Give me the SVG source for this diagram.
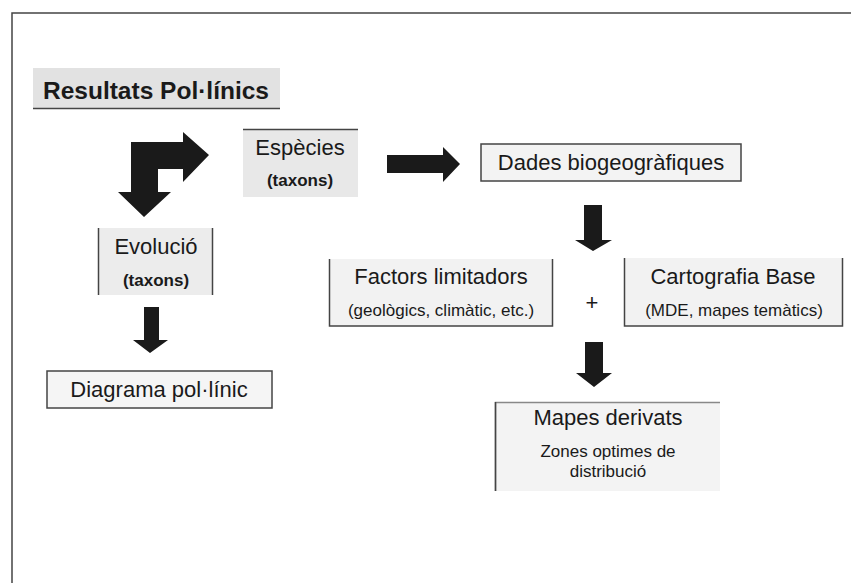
<svg xmlns="http://www.w3.org/2000/svg" width="851" height="583" viewBox="0 0 851 583">
<style>
text{font-family:"Liberation Sans",Arial,sans-serif;fill:#1a1a1a;text-anchor:middle}
.t{font-size:22px}
.s{font-size:17px}
.b{font-weight:bold}
.ln{stroke:#444;stroke-width:1.5;fill:none}
.arr{fill:#1a1a1a}
</style>
<rect width="851" height="583" fill="#fff"/>
<g id="frame"><path class="ln" d="M12,583 V13 H851" stroke="#555"/></g>
<g id="title">
<rect x="33" y="68" width="247" height="41" fill="#e2e2e2"/>
<line class="ln" x1="33" y1="108.5" x2="280" y2="108.5"/>
<text x="156" y="99" class="b" style="font-size:24.5px">Resultats Pol·línics</text>
</g>
<g id="especies">
<rect x="243" y="129" width="115" height="68" fill="#e8e8e8"/>
<line class="ln" x1="243" y1="129.5" x2="358" y2="129.5"/>
<text x="300" y="155" class="t">Espècies</text>
<text x="300" y="186" class="s b">(taxons)</text>
</g>
<g id="dades">
<rect x="481" y="144" width="260" height="37" class="ln" style="fill:#f3f3f3"/>
<text x="611" y="170" class="t">Dades biogeogràfiques</text>
</g>
<g id="evolucio">
<rect x="98" y="228" width="115" height="67" fill="#ececec"/>
<path class="ln" d="M98.5,228 V295 M212.5,228 V295"/>
<text x="156" y="254" class="t">Evolució</text>
<text x="156" y="286" class="s b">(taxons)</text>
</g>
<g id="diagrama">
<rect x="47" y="371" width="225" height="37" class="ln" style="fill:#f5f5f5"/>
<text x="159" y="397" class="t">Diagrama pol·línic</text>
</g>
<g id="factors">
<rect x="329" y="259" width="224" height="67" fill="#f2f2f2"/>
<path class="ln" d="M329.5,259 V326 H552.5 V259"/>
<text x="441" y="284" class="t">Factors limitadors</text>
<text x="441" y="316" class="s">(geològics, climàtic, etc.)</text>
</g>
<g id="plus"><text x="592" y="310" style="font-size:22px">+</text></g>
<g id="cartografia">
<rect x="624" y="258" width="219" height="68" fill="#f2f2f2"/>
<path class="ln" d="M624.5,258 V326 H842.5 V258"/>
<text x="733" y="284" class="t">Cartografia Base</text>
<text x="734" y="316" class="s">(MDE, mapes temàtics)</text>
</g>
<g id="mapes">
<rect x="495" y="402" width="225" height="89" fill="#f3f3f3"/>
<path class="ln" d="M495.5,491 V402.5 H720" style="stroke:#888"/>
<line class="ln" x1="495.5" y1="402" x2="495.5" y2="491"/>
<text x="608" y="425" class="t">Mapes derivats</text>
<text x="608" y="457" style="font-size:17px">Zones optimes de</text>
<text x="608" y="477" style="font-size:17px">distribució</text>
</g>
<g id="connectors">
<path class="arr" d="M131,192 H118 L144,217 L171,192 H158 V169 H183 V182 L209,155 L183,132 V142 H131 Z"/>
<path class="arr" d="M387,155 H443 V147 L460,164 L443,182 V173 H387 Z"/>
<path class="arr" d="M584,205 H602 V240 H612 L593,251 L575,240 H584 Z"/>
<path class="arr" d="M144,307 H159 V340 H168 L150,353 L133,340 H144 Z"/>
<path class="arr" d="M585,342 H603 V373 H612 L594,387 L576,373 H585 Z"/>
</g>
</svg>
